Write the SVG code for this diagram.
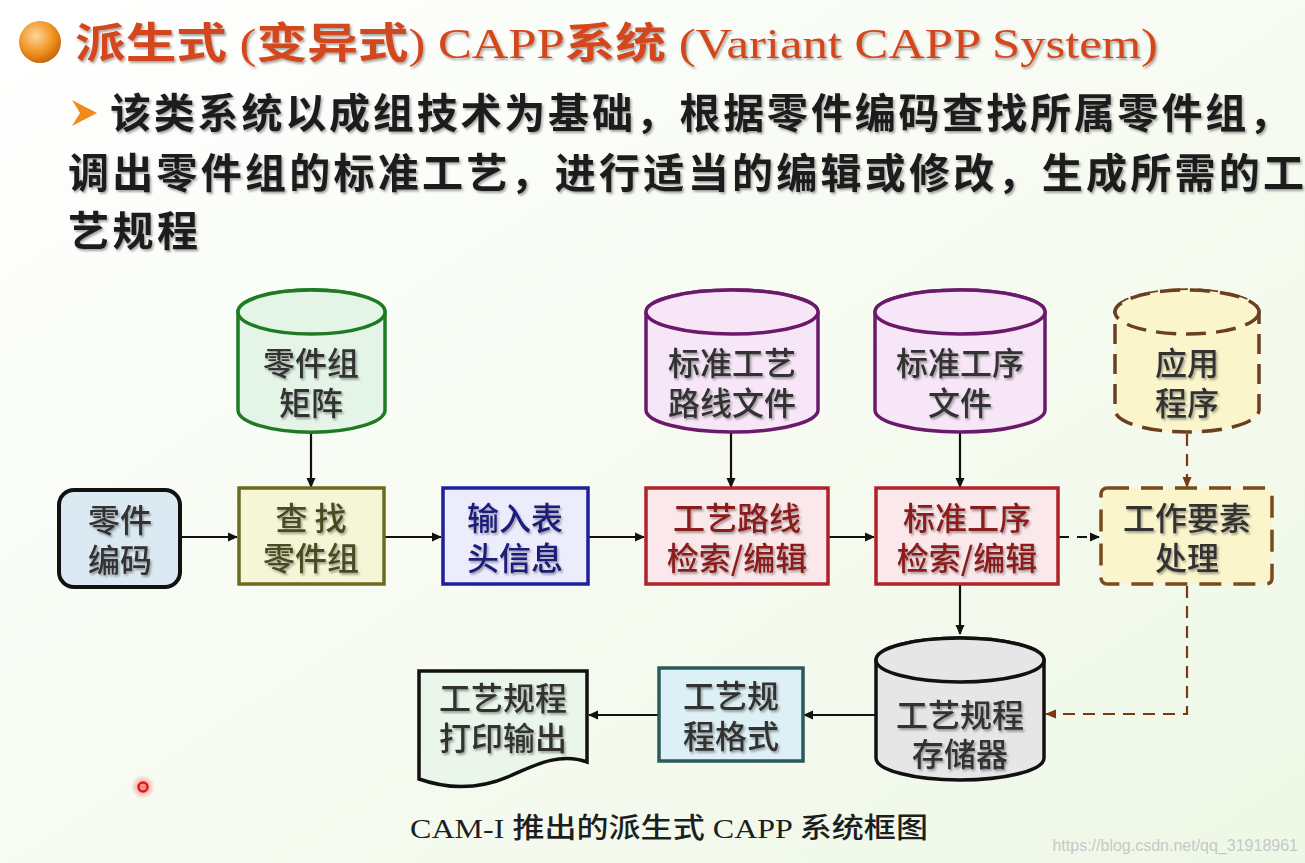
<svg xmlns="http://www.w3.org/2000/svg" width="1305" height="863" viewBox="0 0 1305 863">
<defs>
<linearGradient id="bg" x1="0" y1="0" x2="1" y2="1">
<stop offset="0" stop-color="#ffffff"/>
<stop offset="0.5" stop-color="#f7fbf2"/>
<stop offset="1" stop-color="#eef8e6"/>
</linearGradient>
<radialGradient id="ball" cx="0.4" cy="0.35" r="0.7">
<stop offset="0" stop-color="#ffd69a"/>
<stop offset="0.6" stop-color="#f0921e"/>
<stop offset="1" stop-color="#c0600c"/>
</radialGradient>
<radialGradient id="glow" cx="0.5" cy="0.5" r="0.5">
<stop offset="0" stop-color="#ff5a5a" stop-opacity="0.8"/>
<stop offset="1" stop-color="#ff5a5a" stop-opacity="0"/>
</radialGradient>
<filter id="sh" x="-10%" y="-10%" width="120%" height="130%">
<feDropShadow dx="1.5" dy="2" stdDeviation="1.2" flood-color="#000" flood-opacity="0.35"/>
</filter>
<marker id="ah" markerWidth="10" markerHeight="10" refX="9" refY="5" orient="auto" markerUnits="userSpaceOnUse">
<path d="M0,0.5 L10,5 L0,9.5 Z" fill="#111"/>
</marker>
<marker id="ahb" markerWidth="12" markerHeight="10" refX="10" refY="5" orient="auto" markerUnits="userSpaceOnUse">
<path d="M0,0.5 L11,5 L0,9.5 Z" fill="#7a3a10"/>
</marker>
<style>
.nt{font-family:"Noto Sans CJK SC","Noto Sans",sans-serif;font-size:32px;font-weight:500;fill:#333;text-anchor:middle;filter:url(#sh)}
.red{fill:#8b1c1c}
.blue{fill:#1a1a7a}
.olive{fill:#4a4a20}
.body{font-family:"Noto Sans CJK SC","Noto Sans",sans-serif;font-size:41px;font-weight:700;fill:#1a1a1a;filter:url(#sh)}
.c{stroke:#111;stroke-width:2.2;fill:none;marker-end:url(#ah)}
.cd{stroke:#111;stroke-width:2.2;fill:none;stroke-dasharray:10 8;marker-end:url(#ah)}
.cb{stroke:#7a3a10;stroke-width:2.2;fill:none;stroke-dasharray:12 8;marker-end:url(#ahb)}
</style>
</defs>
<rect width="1305" height="863" fill="url(#bg)"/>

<g id="title">
<circle cx="40" cy="42" r="21" fill="url(#ball)"/>
<text x="75" y="58" font-family="Liberation Serif,'Noto Sans CJK SC',serif" font-size="42" fill="#d4461c" textLength="1083" lengthAdjust="spacingAndGlyphs" filter="url(#sh)"><tspan font-family="Noto Sans CJK SC,sans-serif" font-weight="700">派生式</tspan> (<tspan font-family="Noto Sans CJK SC,sans-serif" font-weight="700">变异式</tspan>) CAPP<tspan font-family="Noto Sans CJK SC,sans-serif" font-weight="700">系统</tspan> (Variant  CAPP  System)</text>
</g>

<g id="bullet-text">
<path d="M72,100 L97,113 L72,126 L80,113 Z" fill="#f08a1c"/>
<text class="body" x="110" y="128" textLength="1180" lengthAdjust="spacing">该类系统以成组技术为基础，根据零件编码查找所属零件组，</text>
<text class="body" x="68" y="188" textLength="1236" lengthAdjust="spacing">调出零件组的标准工艺，进行适当的编辑或修改，生成所需的工</text>
<text class="body" x="68" y="246" textLength="130" lengthAdjust="spacing">艺规程</text>
</g>

<g id="connectors">
<line class="c" x1="180" y1="537" x2="237" y2="537"/>
<line class="c" x1="385" y1="537" x2="441" y2="537"/>
<line class="c" x1="589" y1="537" x2="644" y2="537"/>
<line class="c" x1="829" y1="537" x2="874" y2="537"/>
<line class="cd" x1="1059" y1="537" x2="1099" y2="537"/>
<line class="c" x1="311" y1="432" x2="311" y2="487"/>
<line class="c" x1="731" y1="432" x2="731" y2="487"/>
<line class="c" x1="960" y1="432" x2="960" y2="487"/>
<line class="cb" x1="1187" y1="434" x2="1187" y2="487"/>
<line class="c" x1="960" y1="585" x2="960" y2="634"/>
<polyline class="cb" points="1187,586 1187,714 1046,714"/>
<line class="c" x1="875" y1="715" x2="804" y2="715"/>
<line class="c" x1="658" y1="715" x2="589" y2="715"/>
</g>

<g id="n-partgroup-matrix">
<path d="M238,312 A73,22 0 0 1 385,312 V410 A73,22 0 0 1 238,410 Z" fill="#e4f5e8" stroke="#1f7a24" stroke-width="3.5"/>
<ellipse cx="311.5" cy="312" rx="73.5" ry="22" fill="#e4f5e8" stroke="#1f7a24" stroke-width="3.5"/>
<text class="nt" x="311" y="375">零件组<tspan x="311" dy="40">矩阵</tspan></text>
</g>

<g id="n-part-code">
<rect x="59" y="490" width="121" height="97" rx="15" fill="#dbeaf2" stroke="#111" stroke-width="4"/>
<text class="nt" x="120" y="532">零件<tspan x="120" dy="40">编码</tspan></text>
</g>

<g id="n-find-group">
<rect x="239" y="488" width="145" height="96" fill="#f5f6d6" stroke="#6b6b22" stroke-width="3.5"/>
<text class="nt olive" x="311" y="530">查 找<tspan x="311" dy="40">零件组</tspan></text>
</g>

<g id="n-input-header">
<rect x="443" y="488" width="145" height="96" fill="#ececfc" stroke="#1f1f9a" stroke-width="3.5"/>
<text class="nt blue" x="515" y="530">输入表<tspan x="515" dy="40">头信息</tspan></text>
</g>

<g id="n-route-edit">
<rect x="646" y="488" width="182" height="96" fill="#fbe8ea" stroke="#b0222a" stroke-width="3.5"/>
<text class="nt red" x="737" y="530">工艺路线<tspan x="737" dy="40">检索/编辑</tspan></text>
</g>

<g id="n-op-edit">
<rect x="876" y="488" width="182" height="96" fill="#fbe8ea" stroke="#b0222a" stroke-width="3.5"/>
<text class="nt red" x="967" y="530">标准工序<tspan x="967" dy="40">检索/编辑</tspan></text>
</g>

<g id="n-work-element">
<rect x="1101" y="488" width="171" height="96" rx="6" fill="#fbf5cc" stroke="#7a4a1e" stroke-width="3.5" stroke-dasharray="22 12"/>
<text class="nt" x="1187" y="530">工作要素<tspan x="1187" dy="40">处理</tspan></text>
</g>

<g id="n-std-route-file">
<path d="M646,312 A86,22 0 0 1 818,312 V410 A86,22 0 0 1 646,410 Z" fill="#f7e6f7" stroke="#6b1a6b" stroke-width="3.5"/>
<ellipse cx="732" cy="312" rx="86" ry="22" fill="#f7e6f7" stroke="#6b1a6b" stroke-width="3.5"/>
<text class="nt" x="732" y="375">标准工艺<tspan x="732" dy="40">路线文件</tspan></text>
</g>

<g id="n-std-op-file">
<path d="M875,312 A85,22 0 0 1 1045,312 V410 A85,22 0 0 1 875,410 Z" fill="#f7e6f7" stroke="#6b1a6b" stroke-width="3.5"/>
<ellipse cx="960" cy="312" rx="85" ry="22" fill="#f7e6f7" stroke="#6b1a6b" stroke-width="3.5"/>
<text class="nt" x="960" y="375">标准工序<tspan x="960" dy="40">文件</tspan></text>
</g>

<g id="n-app-program">
<path d="M1115,312 A72,22 0 0 1 1259,312 V410 A72,22 0 0 1 1115,410 Z" fill="#fbf5cc" stroke="#6b4020" stroke-width="3.5" stroke-dasharray="20 10"/>
<ellipse cx="1187" cy="312" rx="72" ry="22" fill="#fbf5cc" stroke="#6b4020" stroke-width="3.5" stroke-dasharray="20 10"/>
<text class="nt" x="1187" y="375">应用<tspan x="1187" dy="40">程序</tspan></text>
</g>

<g id="n-storage">
<path d="M876,660 A84,22 0 0 1 1044,660 V758 A84,22 0 0 1 876,758 Z" fill="#e6e6e6" stroke="#111" stroke-width="3.5"/>
<ellipse cx="960" cy="660" rx="84" ry="22" fill="#e6e6e6" stroke="#111" stroke-width="3.5"/>
<text class="nt" x="960" y="727">工艺规程<tspan x="960" dy="39">存储器</tspan></text>
</g>

<g id="n-format">
<rect x="659" y="668" width="144" height="93" fill="#ddf0f5" stroke="#2a5a5a" stroke-width="3.5"/>
<text class="nt" x="731" y="708">工艺规<tspan x="731" dy="40">程格式</tspan></text>
</g>

<g id="n-print">
<path d="M419,671 H587 V762 C560,752 535,765 510,776 C480,789 450,790 419,779 Z" fill="#eaf6ea" stroke="#111" stroke-width="3.5"/>
<text class="nt" x="503" y="710">工艺规程<tspan x="503" dy="40">打印输出</tspan></text>
</g>

<g id="cursor">
<circle cx="143" cy="787" r="12" fill="url(#glow)"/>
<circle cx="143" cy="787" r="4.5" fill="none" stroke="#e01818" stroke-width="2.5"/>
</g>

<text x="410" y="838" font-family="Liberation Serif,'Noto Sans CJK SC',serif" font-size="28" fill="#1e1e1e" textLength="518" lengthAdjust="spacingAndGlyphs">CAM-I <tspan font-family="Noto Sans CJK SC,sans-serif" font-weight="500">推出的派生式</tspan> CAPP <tspan font-family="Noto Sans CJK SC,sans-serif" font-weight="500">系统框图</tspan></text>
<text x="1298" y="851" font-family="Liberation Sans,sans-serif" font-size="16" fill="#c8c8c8" text-anchor="end">https://blog.csdn.net/qq_31918961</text>
</svg>
